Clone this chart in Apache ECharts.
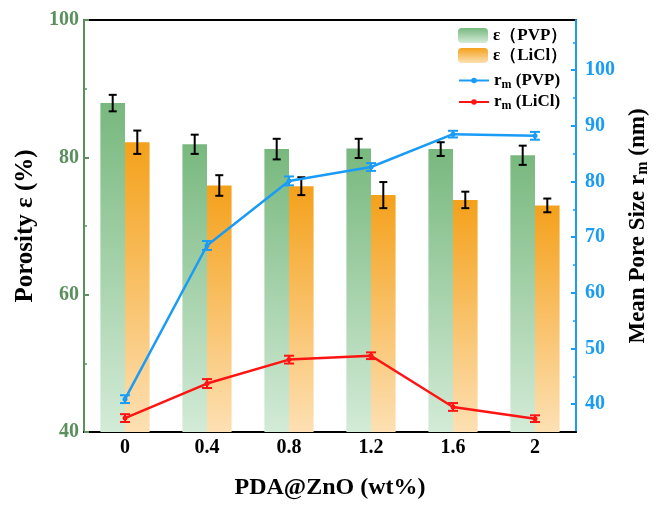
<!DOCTYPE html>
<html><head><meta charset="utf-8">
<script src="https://cdn.jsdelivr.net/npm/echarts@6/dist/echarts.min.js"></script>
<style>html,body{margin:0;padding:0;background:#fff}#c{width:659px;height:505px}</style>
</head><body><div id="c"></div><script>
const categories = ['0', '0.4', '0.8', '1.2', '1.6', '2'];
const porosityPVP = [87.9, 81.9, 81.2, 81.3, 81.2, 80.3];
const porosityPVPErr = [1.2, 1.4, 1.5, 1.4, 1.0, 1.4];
const porosityLiCl = [82.2, 75.9, 75.8, 74.5, 73.8, 73.0];
const porosityLiClErr = [1.7, 1.5, 1.3, 1.9, 1.2, 1.0];
const poreSizePVP = [40.9, 68.5, 80.1, 82.6, 88.5, 88.2];
const poreSizePVPErr = [0.7, 0.8, 0.8, 0.7, 0.6, 0.7];
const poreSizeLiCl = [37.5, 43.7, 48.0, 48.7, 39.5, 37.4];
const poreSizeLiClErr = [0.7, 0.8, 0.7, 0.6, 0.7, 0.6];
const leftTicks = [40, 60, 80, 100];
const rightTicks = [40, 50, 60, 70, 80, 90, 100];
const rightMinorTicks = [45, 55, 65, 75, 85, 95, 105];

const FONT = 'Liberation Serif';
const GREEN_AXIS = '#5b8f5d';
const BLUE = '#1a9cf6';
const RED = '#ff1414';

function grad(top, bottom) {
  return new echarts.graphic.LinearGradient(0, 0, 0, 1, [
    {offset: 0, color: top}, {offset: 1, color: bottom}
  ]);
}

function errSeries(values, errs, yAxisIndex, offsetFrac, color, capHalf, width) {
  return {
    type: 'custom',
    xAxisIndex: 0,
    yAxisIndex: yAxisIndex,
    z: 10,
    silent: true,
    data: values.map((v, i) => [i, v, errs[i]]),
    encode: {x: 0, y: 1},
    renderItem: function (params, api) {
      const i = api.value(0), v = api.value(1), e = api.value(2);
      const band = api.size([1, 0])[0];
      const dx = band * offsetFrac;
      const t = api.coord([i, v + e]);
      const b = api.coord([i, v - e]);
      const x = t[0] + dx;
      const st = {stroke: color, lineWidth: width};
      return {
        type: 'group',
        children: [
          {type: 'line', shape: {x1: x, y1: t[1], x2: x, y2: b[1]}, style: st},
          {type: 'line', shape: {x1: x - capHalf, y1: t[1], x2: x + capHalf, y2: t[1]}, style: st},
          {type: 'line', shape: {x1: x - capHalf, y1: b[1], x2: x + capHalf, y2: b[1]}, style: st}
        ]
      };
    }
  };
}

const legendRich = {
  n: {fontFamily: FONT, fontWeight: 'bold', fontSize: 17, color: '#000', lineHeight: 20, verticalAlign: 'middle'},
  s: {fontFamily: FONT, fontWeight: 'bold', fontSize: 12, color: '#000', lineHeight: 20, verticalAlign: 'bottom', padding: [6, 0, 0, 0]}
};
function legendFmt(name) {
  if (name.indexOf('rm') === 0) return '{n|r}{s|m}{n|' + name.slice(2) + '}';
  return '{n|' + name + '}';
}
const legendText = {fontFamily: FONT, fontWeight: 'bold', fontSize: 17, color: '#000', rich: legendRich};

const chart = echarts.init(document.getElementById('c'), null, {renderer: 'canvas'});
chart.setOption({
  animation: false,
  backgroundColor: '#fff',
  grid: {left: 84, right: 72, top: 20, bottom: 68, show: true, borderColor: '#000', borderWidth: 2, backgroundColor: 'transparent'},
  legend: [
    {
      orient: 'vertical', left: 453, top: 22,
      itemWidth: 30, itemHeight: 15, itemGap: 3,
      data: ['ε（PVP）', 'ε（LiCl）'],
      formatter: legendFmt, textStyle: legendText
    },
    {
      orient: 'vertical', left: 453, top: 67,
      itemWidth: 30, itemHeight: 7, itemGap: 3,
      data: ['rm (PVP)', 'rm (LiCl)'],
      formatter: legendFmt, textStyle: legendText
    }
  ],
  xAxis: {
    type: 'category',
    data: categories,
    boundaryGap: true,
    axisLine: {lineStyle: {color: '#000', width: 2}},
    axisTick: {inside: true, alignWithLabel: true, length: 5, lineStyle: {color: '#000', width: 2}},
    axisLabel: {fontFamily: FONT, fontWeight: 'bold', fontSize: 20, color: '#000', margin: 6},
    name: 'PDA@ZnO (wt%)',
    nameLocation: 'middle',
    nameGap: 44,
    nameTextStyle: {fontFamily: FONT, fontWeight: 'bold', fontSize: 24, color: '#000'}
  },
  yAxis: [
    {
      type: 'value', position: 'left', min: 40, max: 100, interval: 20,
      axisLine: {show: true, lineStyle: {color: GREEN_AXIS, width: 2}},
      axisTick: {show: true, inside: true, length: 5, lineStyle: {color: GREEN_AXIS, width: 2}},
      minorTick: {show: true, splitNumber: 2, length: 3, lineStyle: {color: GREEN_AXIS, width: 1.5}},
      axisLabel: {fontFamily: FONT, fontWeight: 'bold', fontSize: 20, color: GREEN_AXIS, margin: 5,
        customValues: leftTicks},
      splitLine: {show: false},
      name: 'Porosity ε (%)',
      nameLocation: 'middle',
      nameRotate: 90,
      nameGap: 46,
      nameTextStyle: {fontFamily: FONT, fontWeight: 'bold', fontSize: 25, color: '#000'}
    },
    {
      type: 'value', position: 'right', min: 35, max: 109,
      axisLine: {show: true, lineStyle: {color: BLUE, width: 2}},
      axisTick: {show: true, inside: true, length: 5, lineStyle: {color: BLUE, width: 2}, customValues: rightTicks},
      axisLabel: {fontFamily: FONT, fontWeight: 'bold', fontSize: 20, color: BLUE, margin: 9, customValues: rightTicks},
      splitLine: {show: false},
      name: '{n|Mean Pore Size r}{s|m}{n| (nm)}',
      nameLocation: 'middle',
      nameRotate: 90,
      nameGap: 49,
      nameTextStyle: {
        fontFamily: FONT, fontWeight: 'bold', fontSize: 23, color: '#000',
        rich: {
          n: {fontFamily: FONT, fontWeight: 'bold', fontSize: 23, color: '#000', lineHeight: 26, verticalAlign: 'middle'},
          s: {fontFamily: FONT, fontWeight: 'bold', fontSize: 16, color: '#000', lineHeight: 26, verticalAlign: 'bottom', padding: [8, 0, 0, 0]}
        }
      }
    },
    {
      type: 'value', position: 'right', min: 35, max: 109,
      axisLine: {show: false},
      axisTick: {show: true, inside: true, length: 3, lineStyle: {color: BLUE, width: 1.5}, customValues: rightMinorTicks},
      axisLabel: {show: false},
      splitLine: {show: false}
    }
  ],
  series: [
    {
      name: 'ε（PVP）', type: 'bar', yAxisIndex: 0, data: porosityPVP,
      barWidth: '30%', barGap: '0%',
      itemStyle: {color: grad('#78b87e', '#d3ebd7')}
    },
    {
      name: 'ε（LiCl）', type: 'bar', yAxisIndex: 0, data: porosityLiCl,
      barWidth: '30%', barGap: '0%',
      itemStyle: {color: grad('#f4a11b', '#fde0b3')}
    },
    errSeries(porosityPVP, porosityPVPErr, 0, -0.15, '#000', 4, 2),
    errSeries(porosityLiCl, porosityLiClErr, 0, 0.15, '#000', 4, 2),
    {
      name: 'rm (PVP)', type: 'line', yAxisIndex: 1, data: poreSizePVP, z: 11,
      symbol: 'circle', symbolSize: 5,
      lineStyle: {color: BLUE, width: 2.5}, itemStyle: {color: BLUE}
    },
    {
      name: 'rm (LiCl)', type: 'line', yAxisIndex: 1, data: poreSizeLiCl, z: 11,
      symbol: 'circle', symbolSize: 5,
      lineStyle: {color: RED, width: 2.5}, itemStyle: {color: RED}
    },
    errSeries(poreSizePVP, poreSizePVPErr, 1, 0, BLUE, 5, 2),
    errSeries(poreSizeLiCl, poreSizeLiClErr, 1, 0, RED, 5, 2)
  ]
});
</script></body></html>
